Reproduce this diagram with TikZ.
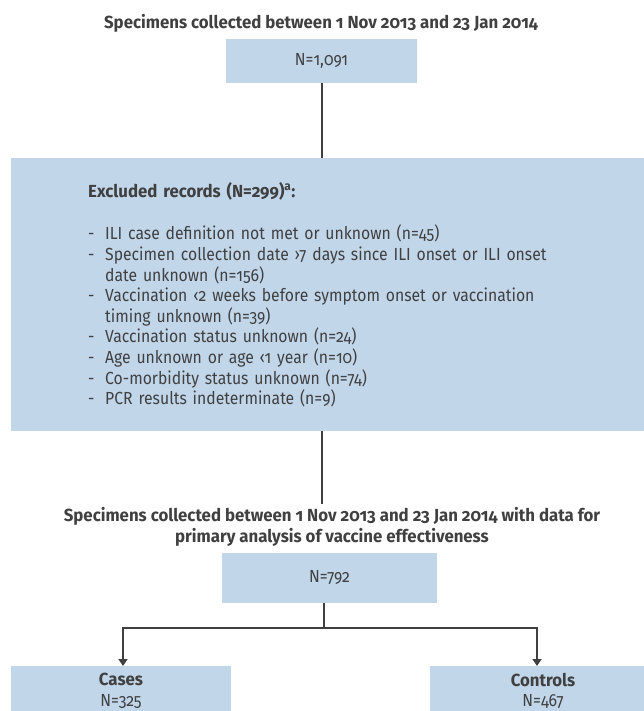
\documentclass[tikz,border=0pt]{standalone}
\usepackage{fontspec}
\setmainfont{Fira Sans}[Numbers=OldStyle, FakeStretch=0.9, BoldFeatures={FakeStretch=0.96}]
\usetikzlibrary{arrows.meta, positioning, calc}
\definecolor{boxblue}{RGB}{194, 214, 234}
\definecolor{inkgrey}{RGB}{64, 64, 64}
\newcommand{\exitem}[1]{\makebox[17pt][l]{-}#1}
\newcommand{\excont}{\hspace*{17pt}}

\begin{document}
\begin{tikzpicture}[x=1pt, y=-1pt,
  every node/.style={text=inkgrey, font=\fontsize{17.5}{20.6}\selectfont},
  flowbox/.style={fill=boxblue, inner sep=0pt},
  heading/.style={font=\fontsize{17.5}{21}\selectfont\bfseries, align=center},
  link/.style={draw=inkgrey, line width=2pt},
  arrow/.style={link, -{Triangle[width=9pt, length=7pt]}}]
  \useasboundingbox (0,0) rectangle (643,711);

  % all specimens
  \node[heading] (title1) at (321, 23) {Specimens collected between 1 Nov 2013 and 23 Jan 2014};
  \node[flowbox, minimum width=191pt, minimum height=44pt] (n1091) at (321.5, 61) {N=1,091};

  % exclusions
  \node[flowbox, anchor=north west, minimum height=273pt, text width=495pt, inner xsep=77pt, align=left] (excl) at (11, 158) {
    \textbf{Excluded records (N=299)\textsuperscript{a}:}\\[22pt]
    \exitem{ILI case definition not met or unknown (n=45)}\\
    \exitem{Specimen collection date ›7 days since ILI onset or ILI onset}\\
    \excont date unknown (n=156)\\
    \exitem{Vaccination ‹2 weeks before symptom onset or vaccination}\\
    \excont timing unknown (n=39)\\
    \exitem{Vaccination status unknown (n=24)}\\
    \exitem{Age unknown or age ‹1 year (n=10)}\\
    \exitem{Co-morbidity status unknown (n=74)}\\
    \exitem{PCR results indeterminate (n=9)}
  };

  % analysed specimens
  \node[heading] (title2) at (332, 527) {Specimens collected between 1 Nov 2013 and 23 Jan 2014 with data for\\primary analysis of vaccine effectiveness};
  \node[flowbox, minimum width=215pt, minimum height=50pt] (n792) at (329.5, 578) {N=792};

  % split
  \node[flowbox, anchor=north, minimum width=220pt, minimum height=49pt, align=center] (cases) at (121, 666) {\textbf{Cases}\\N=325};
  \node[flowbox, anchor=north, minimum width=226pt, minimum height=49pt, align=center] (controls) at (543, 666) {\textbf{Controls}\\N=467};

  \draw[link] (n1091.south) -- (n1091.south |- excl.north);
  \draw[link] (n1091.south |- excl.south) -- (n1091.south |- title2.north);
  \draw[link] ([xshift=-6pt]n792.south) -- ++(0,25) coordinate (split);
  \draw[arrow] (split) -| ([xshift=2pt]cases.north);
  \draw[arrow] (split) -| ([xshift=-6pt]controls.north);
\end{tikzpicture}
\end{document}
